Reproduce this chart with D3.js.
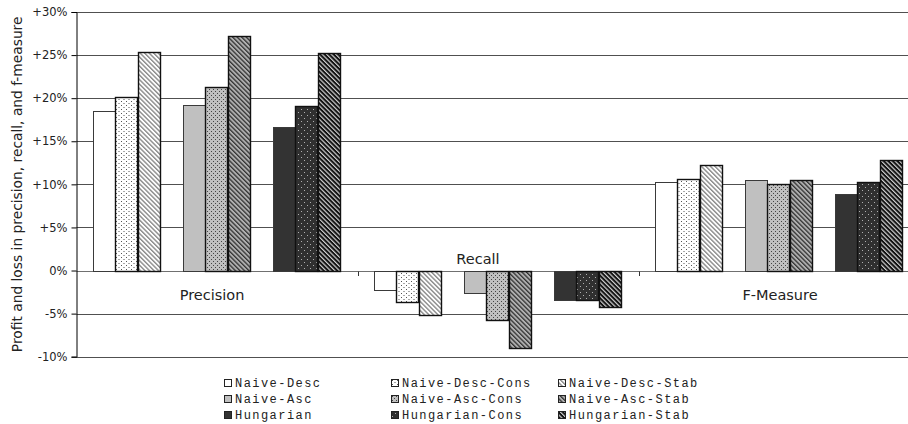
<!DOCTYPE html>
<html><head><meta charset="utf-8">
<script src="https://cdn.jsdelivr.net/npm/d3@7"></script>
<style>body{margin:0;background:#fff}svg{display:block}</style>
</head><body><svg id="c" width="908" height="424"></svg>
<script>
const categories = ["Precision", "Recall", "F-Measure"];
const seriesNames = ["Naive-Desc", "Naive-Desc-Cons", "Naive-Desc-Stab",
  "Naive-Asc", "Naive-Asc-Cons", "Naive-Asc-Stab",
  "Hungarian", "Hungarian-Cons", "Hungarian-Stab"];
const precisionValues = [18.5, 20.1, 25.4, 19.2, 21.3, 27.2, 16.6, 19.1, 25.2];
const recallValues = [-2.3, -3.6, -5.2, -2.6, -5.7, -9.0, -3.4, -3.4, -4.2];
const fMeasureValues = [10.3, 10.6, 12.2, 10.5, 10.0, 10.5, 8.9, 10.3, 12.8];
const yTickValues = [-10, -5, 0, 5, 10, 15, 20, 25, 30];
const yTickLabels = ["-10%", "-5%", "0%", "+5%", "+10%", "+15%", "+20%", "+25%", "+30%"];
const yTitle = "Profit and loss in precision, recall, and f-measure";

const valuesByCategory = [precisionValues, recallValues, fMeasureValues];

const svg = d3.select("#c");
const defs = svg.append("defs");

// ---- patterns ----
function dots(id, bg, fg, w, h, stagger) {
  const p = defs.append("pattern").attr("id", id).attr("patternUnits", "userSpaceOnUse")
    .attr("width", w).attr("height", h * 2);
  p.append("rect").attr("width", w).attr("height", h * 2).attr("fill", bg);
  p.append("rect").attr("x", 1).attr("y", 1).attr("width", 1).attr("height", 1).attr("fill", fg);
  p.append("rect").attr("x", 1 + stagger).attr("y", 1 + h).attr("width", 1).attr("height", 1).attr("fill", fg);
}
function stripes(id, bg, fg, period, lw) {
  const p = defs.append("pattern").attr("id", id).attr("patternUnits", "userSpaceOnUse")
    .attr("width", period).attr("height", period).attr("patternTransform", "rotate(-45)");
  p.append("rect").attr("width", period).attr("height", period).attr("fill", bg);
  p.append("rect").attr("x", 0).attr("y", 0).attr("width", lw).attr("height", period).attr("fill", fg);
}
dots("pDescCons", "#ffffff", "#555555", 5, 2, 2.5);
dots("pAscCons", "#c0c0c0", "#444444", 4, 2, 2);
dots("pHunCons", "#303030", "#b0b0b0", 6, 3, 3);
stripes("pDescStab", "#ffffff", "#8a8a8a", 3.2, 1.4);
stripes("pAscStab", "#b0b0b0", "#333333", 3.2, 1.3);
stripes("pHunStab", "#111111", "#d0d0d0", 3.2, 1.2);

const fills = ["#ffffff", "url(#pDescCons)", "url(#pDescStab)",
  "#c0c0c0", "url(#pAscCons)", "url(#pAscStab)",
  "#333333", "url(#pHunCons)", "url(#pHunStab)"];

// ---- scales ----
const plotLeft = 76.5, catWidth = 281;
const x = d3.scaleBand().domain(categories).range([plotLeft, plotLeft + catWidth * 3]).padding(0);
const slot = d3.scaleBand().domain(d3.range(11)).range([16.2, 263.7]).padding(0);
const slotOf = i => Math.floor(i / 3) * 4 + (i % 3);
const y = d3.scaleLinear().domain([-10, 30]).range([356.7, 12]);

// gridlines
svg.append("g").selectAll("line").data(yTickValues).join("line")
  .attr("x1", plotLeft).attr("x2", 930)
  .attr("y1", d => Math.round(y(d)) + 0.5).attr("y2", d => Math.round(y(d)) + 0.5)
  .attr("stroke", d => d === 0 ? "#707070" : "#505050").attr("stroke-width", 1.1);

// x category ticks (below zero line)
svg.append("g").selectAll("line").data(categories.slice(1)).join("line")
  .attr("x1", d => Math.round(x(d)) + 0.5).attr("x2", d => Math.round(x(d)) + 0.5)
  .attr("y1", Math.round(y(0)) + 0.5).attr("y2", Math.round(y(0)) + 5)
  .attr("stroke", "#333");

// bars
const barData = [];
categories.forEach((c, ci) => valuesByCategory[ci].forEach((v, si) => barData.push({c, si, v})));
svg.append("g").selectAll("rect").data(barData).join("rect")
  .attr("x", d => Math.round(x(d.c) + slot(slotOf(d.si))) + 0.5)
  .attr("width", slot.bandwidth() - 0.5)
  .attr("y", d => Math.round(y(Math.max(0, d.v))) + 0.5)
  .attr("height", d => Math.abs(Math.round(y(d.v)) - Math.round(y(0))))
  .attr("fill", d => fills[d.si])
  .attr("stroke", d => d.si % 3 === 0 ? "#3a3a3a" : "#111")
  .attr("stroke-width", d => d.si % 3 === 0 ? 1 : 1.4);

// category labels
const labelDx = [-5, -20, 1];
svg.append("g").selectAll("text").data(categories).join("text")
  .attr("x", (d, i) => x(d) + x.bandwidth() / 2 + labelDx[i])
  .attr("y", (d, i) => d3.mean(valuesByCategory[i]) < 0 ? y(0) - 7 : y(0) + 29)
  .attr("text-anchor", "middle")
  .attr("font-family", "DejaVu Sans, Verdana, sans-serif").attr("font-size", 14.5)
  .attr("fill", "#222").text(d => d);

// y axis
const yAxis = d3.axisLeft(y).tickValues(yTickValues).tickSize(5).tickPadding(4)
  .tickFormat((d, i) => yTickLabels[i]);
const ga = svg.append("g").attr("transform", `translate(${plotLeft},0)`).call(yAxis);
ga.select(".domain").attr("stroke", "#000");
ga.selectAll(".tick line").attr("stroke", "#000");
ga.selectAll(".tick text").attr("font-family", "DejaVu Sans, Verdana, sans-serif")
  .attr("font-size", 11.5).attr("fill", "#222");

// y title
svg.append("text").attr("transform", `translate(22,${(12 + 356.7) / 2}) rotate(-90)`)
  .attr("text-anchor", "middle").attr("font-family", "DejaVu Sans, Verdana, sans-serif")
  .attr("font-size", 13.8).attr("fill", "#222").text(yTitle);

// legend
const legendX = [224, 391, 558], legendY = [383, 399, 415];
const lg = svg.append("g").selectAll("g").data(seriesNames).join("g")
  .attr("transform", (d, i) => `translate(${legendX[i % 3]},${legendY[Math.floor(i / 3)]})`);
lg.append("rect").attr("x", 0.5).attr("y", -3.5).attr("width", 7).attr("height", 7)
  .attr("fill", (d, i) => fills[i]).attr("stroke", "#222");
lg.append("text").attr("x", 11).attr("y", 4)
  .attr("font-family", "Courier New, Liberation Mono, monospace").attr("font-size", 12)
  .attr("letter-spacing", 1.45).attr("fill", "#222").text(d => d);
</script></body></html>
